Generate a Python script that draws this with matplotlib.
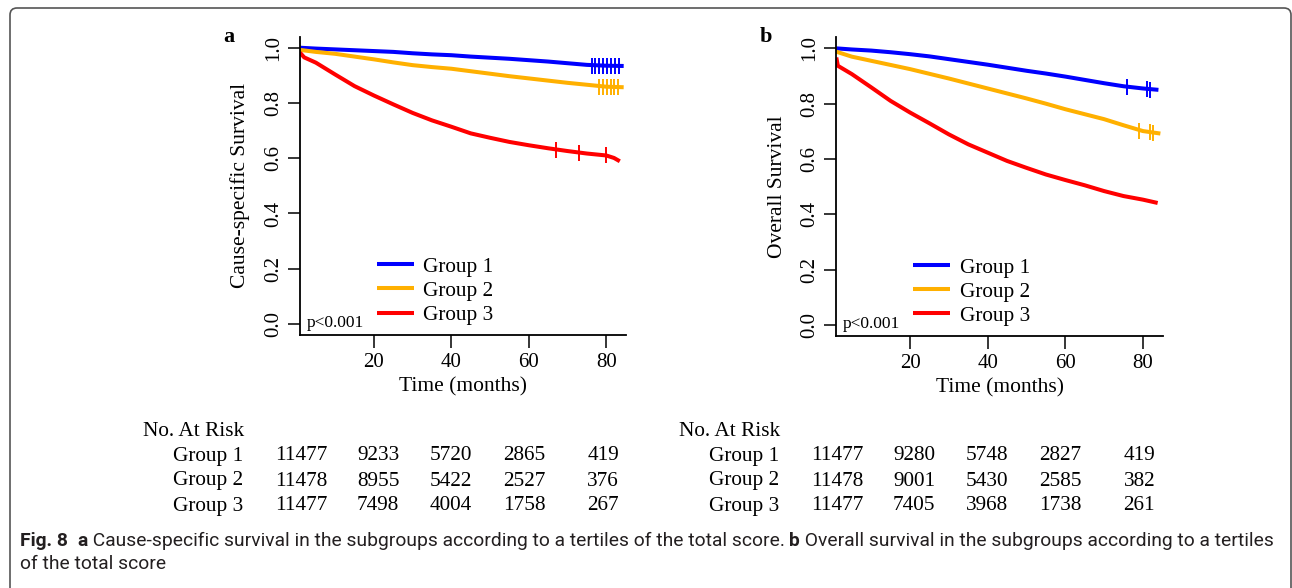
import matplotlib
matplotlib.use("Agg")
import matplotlib.pyplot as plt
from matplotlib.patches import FancyBboxPatch
from matplotlib import font_manager

plt.rcParams['font.family'] = ['Liberation Serif', 'DejaVu Serif']

groups = ['Group 1', 'Group 2', 'Group 3']
colors = ['#0000FF', '#FFB000', '#FF0000']

# panel a: cause-specific survival
css_t = [[1, 5, 10, 15, 20, 25, 30, 35, 40, 45, 50, 55, 60, 65, 70, 75, 80, 84.5],
         [1, 5, 10, 15, 20, 25, 30, 35, 40, 45, 50, 55, 60, 65, 70, 75, 80, 84.5],
         [0.9, 2, 5, 10, 15, 20, 25, 30, 35, 40, 45, 50, 55, 60, 65, 70, 75, 80, 82, 83.5]]
css_s = [[1.0, 0.997, 0.994, 0.991, 0.988, 0.985, 0.980, 0.976, 0.973, 0.968,
          0.964, 0.960, 0.955, 0.950, 0.944, 0.938, 0.935, 0.934],
         [0.992, 0.985, 0.978, 0.968, 0.958, 0.947, 0.937, 0.930, 0.924, 0.915,
          0.906, 0.897, 0.889, 0.881, 0.873, 0.866, 0.859, 0.857],
         [0.982, 0.965, 0.946, 0.903, 0.861, 0.827, 0.795, 0.764, 0.737, 0.714,
          0.690, 0.674, 0.659, 0.647, 0.636, 0.626, 0.617, 0.610, 0.601, 0.589]]
css_cens_t = [[76.2, 77.2, 78.2, 79.2, 80.2, 81.2, 82.2, 83.2],
              [78.1, 79.1, 80.1, 81.1, 82.1, 83.1],
              [67.0, 73.0, 80.0]]
css_cens_s = [[0.935] * 8, [0.858] * 6, [0.630, 0.619, 0.610]]

# panel b: overall survival
os_t = [[1, 5, 10, 15, 20, 25, 30, 35, 40, 45, 50, 55, 60, 65, 70, 75, 80, 84],
        [1, 5, 10, 15, 20, 25, 30, 35, 40, 45, 50, 55, 60, 65, 70, 75, 80, 84.5],
        [1, 1.4, 5, 10, 15, 20, 25, 30, 35, 40, 45, 50, 55, 60, 65, 70, 75, 80, 83.8]]
os_s = [[1.0, 0.996, 0.992, 0.986, 0.979, 0.971, 0.961, 0.951, 0.941, 0.930,
         0.919, 0.909, 0.898, 0.886, 0.874, 0.863, 0.855, 0.850],
        [0.988, 0.970, 0.955, 0.940, 0.925, 0.908, 0.891, 0.873, 0.855, 0.837,
         0.819, 0.800, 0.780, 0.762, 0.744, 0.722, 0.701, 0.692],
        [0.967, 0.937, 0.907, 0.859, 0.810, 0.768, 0.729, 0.689, 0.653, 0.623,
         0.593, 0.568, 0.544, 0.524, 0.505, 0.484, 0.466, 0.453, 0.441]]
os_cens_t = [[76.0, 81.0, 81.8], [79.0, 81.8, 82.7], []]
os_cens_s = [[0.861, 0.852, 0.851], [0.703, 0.697, 0.694], []]

risk_header = 'No. At Risk'
css_risk = [[11477, 9233, 5720, 2865, 419],
            [11478, 8955, 5422, 2527, 376],
            [11477, 7498, 4004, 1758, 267]]
os_risk = [[11477, 9280, 5748, 2827, 419],
           [11478, 9001, 5430, 2585, 382],
           [11477, 7405, 3968, 1738, 261]]

# layout of the risk table columns, px from the left axis line
col_px = [1, 78, 151, 224, 303]

W, H = 1292, 588
fig = plt.figure(figsize=(W / 100, H / 100), dpi=100)

frame = FancyBboxPatch((0.10, -0.10), 12.81, 5.90, boxstyle="round,pad=0,rounding_size=0.07",
                       transform=fig.dpi_scale_trans, fill=False, ec='#555555', lw=1.2)
fig.patches.append(frame)


def px_axes(l, r, t, b):
    return fig.add_axes([l / W, 1 - b / H, (r - l) / W, (b - t) / H])


def panel(ax, left_px, times, surv, ct, cs, ylabel, letter, risk, xmin):
    for i in range(3):
        ax.plot(times[i], surv[i], color=colors[i], lw=2.9, label=groups[i],
                solid_capstyle='butt')
        if ct[i]:
            ax.plot(ct[i], cs[i], ls='none', marker='|', ms=12, mew=1.4, color=colors[i])
    ax.set_xlim(xmin, 85.1)
    ax.set_ylim(-0.04, 1.04)
    ax.set_xticks([20, 40, 60, 80])
    ax.set_yticks([0.0, 0.2, 0.4, 0.6, 0.8, 1.0])
    ax.set_yticklabels(['0.0', '0.2', '0.4', '0.6', '0.8', '1.0'], rotation=90, va='center')
    ax.spines['top'].set_visible(False)
    ax.spines['right'].set_visible(False)
    for s in ('left', 'bottom'):
        ax.spines[s].set_linewidth(1.3)
    ax.tick_params(length=9, width=1.1, labelsize=15, pad=4)
    ax.tick_params(axis='y', pad=3)
    ax.set_xlabel('Time (months)', fontsize=15.5, labelpad=4)
    ax.set_ylabel(ylabel, fontsize=15.5, labelpad=10)
    ax.text(0.021, 0.04, 'p<0.001', transform=ax.transAxes, fontsize=12.5, va='center')
    ax.legend(loc='upper left', bbox_to_anchor=(0.235, 0.262), frameon=False, fontsize=15.3,
              handlelength=1.75, handletextpad=0.45, labelspacing=0.2, borderpad=0,
              borderaxespad=0)
    fig.text((left_px - 77) / W, 1 - 37 / H, letter, fontsize=16, fontweight='bold',
             ha='left', va='center')

    # number at risk table
    fig.text((left_px - 157) / W, 1 - 431 / H, risk_header, fontsize=15.3, va='center')
    for i in range(3):
        y = 1 - (456 + 25 * i) / H
        fig.text((left_px - 127) / W, y, groups[i], fontsize=15.3, va='center')
        for cx, n in zip(col_px, risk[i]):
            fig.text((left_px + cx) / W, y, str(n), fontsize=15.3, ha='center', va='center')


ax1 = px_axes(300, 626, 36.7, 335)
panel(ax1, 300, css_t, css_s, css_cens_t, css_cens_s, 'Cause-specific Survival', 'a',
      css_risk, 0.9)
ax2 = px_axes(836.3, 1162.7, 37.3, 336)
panel(ax2, 836.3, os_t, os_s, os_cens_t, os_cens_s, 'Overall Survival', 'b', os_risk, 1.0)

# caption, mixed bold / regular
avail = {f.name for f in font_manager.fontManager.ttflist}
cap_font = [f for f in ['Liberation Sans Narrow', 'Roboto'] if f in avail] + ['DejaVu Sans']
line1 = [('Fig. 8', 'bold'), ('  ', 'normal'), ('a', 'bold'),
         (' Cause-specific survival in the subgroups according to a tertiles of the total score. ',
          'normal'),
         ('b', 'bold'), (' Overall survival in the subgroups according to a tertiles', 'normal')]
line2 = [('of the total score', 'normal')]

renderer = fig.canvas.get_renderer()


def measure(parts, size):
    total = 0
    for s, w in parts:
        t = fig.text(0, 0, s, fontsize=size, fontweight=w, family=cap_font)
        total += t.get_window_extent(renderer).width
        t.remove()
    return total


size = 12 * 1250 / measure(line1, 12)


def put(parts, x0, ypx):
    x = x0
    for s, w in parts:
        t = fig.text(x / W, 1 - ypx / H, s, fontsize=size, fontweight=w, family=cap_font,
                     va='center', color='#231f20')
        x += t.get_window_extent(renderer).width


put(line1, 20, 541)
put(line2, 20, 564)

fig.savefig('out.png', dpi=100)
